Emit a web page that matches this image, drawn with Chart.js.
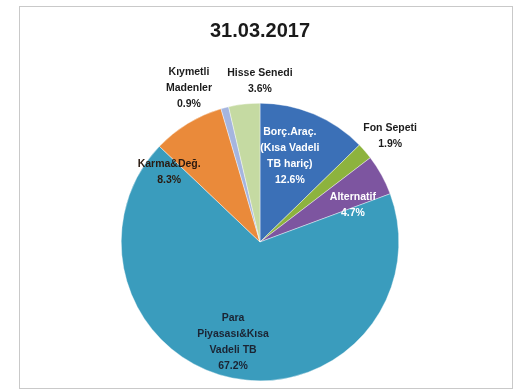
<!DOCTYPE html>
<html>
<head>
<meta charset="utf-8">
<script src="https://cdn.jsdelivr.net/npm/chart.js@4/dist/chart.umd.min.js"></script>
<style>
  html, body { margin: 0; padding: 0; background: #fff; }
  #frame { position: absolute; left: 19px; top: 6px; width: 492px; height: 381px; border: 1px solid #c9c9c9; }
  #pie { position: absolute; left: 0; top: 0; }
</style>
</head>
<body>
<div id="frame"></div>
<canvas id="pie" width="523" height="390"></canvas>
<script>
const title = '31.03.2017';
const categories = [
  ['Borç.Araç.', '(Kısa Vadeli', 'TB hariç)'],
  ['Fon Sepeti'],
  ['Alternatif'],
  ['Para', 'Piyasası&Kısa', 'Vadeli TB'],
  ['Karma&Değ.'],
  ['Kıymetli', 'Madenler'],
  ['Hisse Senedi']
];
const shares = [12.6, 1.9, 4.7, 67.2, 8.3, 0.9, 3.6];
const colors = ['#3b70b7', '#8db33e', '#7d55a0', '#3a9cbd', '#ea8a3a', '#a5b5df', '#c5daa2'];
const labelColors = ['#ffffff', '#1c1c1c', '#ffffff', '#1b2433', '#2a1a10', '#1c1c1c', '#1c1c1c'];
// where each label sits: [turn from slice middle in degrees, distance as part of the radius]
const labelPlace = [[-3.7, 0.655], [1.6, 1.21], [7.2, 0.72], [3.5, 0.745], [-21, 0.826], [-10.1, 1.22], [6.5, 1.16]];

const sliceLabels = {
  id: 'sliceLabels',
  afterDatasetsDraw(chart) {
    const ctx = chart.ctx;
    const meta = chart.getDatasetMeta(0);
    ctx.save();
    ctx.font = 'bold 10.5px "Liberation Sans", Arial, sans-serif';
    ctx.textAlign = 'center';
    ctx.textBaseline = 'middle';
    meta.data.forEach((arc, i) => {
      const p = arc.getProps(['x', 'y', 'startAngle', 'endAngle', 'outerRadius'], true);
      const [turn, dist] = labelPlace[i];
      const a = (p.startAngle + p.endAngle) / 2 + turn * Math.PI / 180;
      const cx = p.x + Math.cos(a) * p.outerRadius * dist;
      const cy = p.y + Math.sin(a) * p.outerRadius * dist;
      const lines = categories[i].concat(shares[i].toFixed(1) + '%');
      ctx.fillStyle = labelColors[i];
      lines.forEach((t, k) => {
        ctx.fillText(t, cx, cy + (k - (lines.length - 1) / 2) * 16);
      });
    });
    ctx.restore();
  }
};

new Chart(document.getElementById('pie'), {
  type: 'pie',
  data: {
    labels: categories.map(c => c.join(' ')),
    datasets: [{
      data: shares,
      backgroundColor: colors,
      borderColor: '#ffffff',
      borderWidth: 0.4
    }]
  },
  options: {
    responsive: false,
    animation: false,
    devicePixelRatio: 1,
    layout: { padding: { left: 121, right: 124, top: 0, bottom: 9 } },
    plugins: {
      legend: { display: false },
      tooltip: { enabled: false },
      title: {
        display: true,
        text: title,
        color: '#1a1a1a',
        font: { family: '"Liberation Sans", Arial, sans-serif', size: 20, weight: 'bold' },
        padding: { top: 19, bottom: 60 }
      }
    }
  },
  plugins: [sliceLabels]
});
</script>
</body>
</html>
